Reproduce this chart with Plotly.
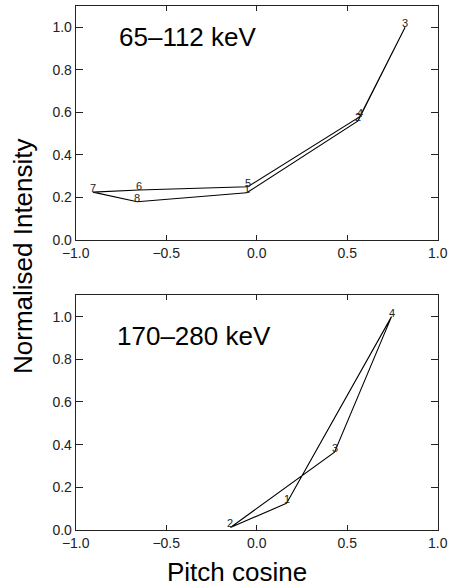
import plotly.graph_objects as go

# Top panel: 65-112 keV
top_x = [-0.055, 0.56, 0.82, 0.57, -0.05, -0.65, -0.905, -0.66]
top_y = [0.222, 0.56, 1.0, 0.58, 0.25, 0.235, 0.225, 0.18]
top_lbl = ["1", "2", "3", "4", "5", "6", "7", "8"]

# Bottom panel: 170-280 keV
bot_x = [0.165, -0.145, 0.43, 0.745]
bot_y = [0.125, 0.012, 0.365, 1.0]
bot_lbl = ["1", "2", "3", "4"]

xticks = [-1.0, -0.5, 0.0, 0.5, 1.0]
xticktext = ["\u22121.0", "\u22120.5", "0.0", "0.5", "1.0"]
yticks = [0.0, 0.2, 0.4, 0.6, 0.8, 1.0]
yticktext = ["0.0", "0.2", "0.4", "0.6", "0.8", "1.0"]

FONT = "Liberation Sans, Arial, Helvetica, sans-serif"

fig = go.Figure()
annots = []

def add_panel(xs, ys, lbls, xa, ya):
    fig.add_trace(go.Scatter(x=xs + [xs[0]], y=ys + [ys[0]], mode="lines",
                             line=dict(color="black", width=1.1),
                             xaxis=xa, yaxis=ya, showlegend=False, hoverinfo="skip"))
    for xv, yv, t in zip(xs, ys, lbls):
        annots.append(dict(x=xv, y=yv, text=t, xref=xa, yref=ya, showarrow=False,
                           yshift=4, font=dict(family=FONT, size=11, color="#222")))

add_panel(top_x, top_y, top_lbl, "x", "y")
add_panel(bot_x, bot_y, bot_lbl, "x2", "y2")

xdom = [75.7 / 449, 437.7 / 449]
axcommon = dict(showgrid=False, zeroline=False, showline=True, mirror="allticks",
                linecolor="#222", linewidth=1, ticks="inside", tickcolor="#222",
                automargin=False,
                tickfont=dict(family=FONT, size=14, color="#222"))

annots += [
    dict(text="65\u2013112 keV", x=188 / 449, y=1 - 37 / 587, xref="paper", yref="paper",
         xanchor="center", yanchor="middle",
         showarrow=False, font=dict(family=FONT, size=26, color="black")),
    dict(text="170\u2013280 keV", x=193.5 / 449, y=1 - 336 / 587, xref="paper", yref="paper",
         xanchor="center", yanchor="middle",
         showarrow=False, font=dict(family=FONT, size=26, color="black")),
    dict(text="Pitch cosine", x=237 / 449, y=1 - 572 / 587, xref="paper", yref="paper",
         xanchor="center", yanchor="middle",
         showarrow=False, font=dict(family=FONT, size=26, color="black")),
    dict(text="Normalised Intensity", x=23 / 449, y=1 - 256 / 587, xref="paper", yref="paper",
         xanchor="center", yanchor="middle",
         showarrow=False, textangle=-90, font=dict(family=FONT, size=26, color="black")),
]

fig.update_layout(
    width=449, height=587,
    margin=dict(l=0, r=0, t=0, b=0, pad=0, autoexpand=False),
    paper_bgcolor="white", plot_bgcolor="white",
    xaxis=dict(domain=xdom, range=[-1, 1], tickvals=xticks, ticktext=xticktext,
               ticklen=5, anchor="y", **axcommon),
    yaxis=dict(domain=[1 - 240 / 587, 1 - 6 / 587], range=[0, 1.1], tickvals=yticks,
               ticktext=yticktext, ticklen=7, anchor="x", **axcommon),
    xaxis2=dict(domain=xdom, range=[-1, 1], tickvals=xticks, ticktext=xticktext,
                ticklen=5, anchor="y2", **axcommon),
    yaxis2=dict(domain=[1 - 530 / 587, 1 - 295.3 / 587], range=[0, 1.1], tickvals=yticks,
                ticktext=yticktext, ticklen=7, anchor="x2", **axcommon),
    annotations=annots,
)

fig.write_html("out.html")
